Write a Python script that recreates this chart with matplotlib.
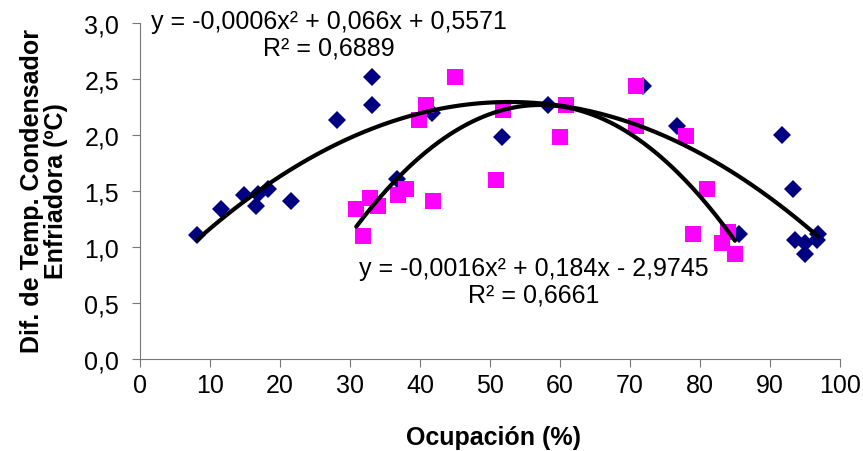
import numpy as np
import matplotlib
matplotlib.use('Agg')
import matplotlib.pyplot as plt

plt.rcParams['font.family'] = ['Liberation Sans', 'DejaVu Sans']

# serie 1 (rombos azules)
x1 = [8.1, 11.6, 14.9, 16.6, 16.8, 18.3, 21.6, 28.2, 33.2, 33.2, 36.7,
      41.7, 51.7, 58.3, 71.9, 76.7, 85.6, 91.7, 93.3, 93.6, 95.0, 95.0,
      96.7, 96.9]
y1 = [1.11, 1.34, 1.46, 1.37, 1.47, 1.52, 1.41, 2.13, 2.52, 2.27, 1.61,
      2.20, 1.98, 2.27, 2.44, 2.08, 1.12, 2.00, 1.52, 1.06, 1.04, 0.94,
      1.06, 1.12]

# serie 2 (cuadrados rosa)
x2 = [30.9, 31.9, 32.9, 34.0, 36.9, 38.0, 39.9, 40.9, 41.9, 45.0, 50.9,
      51.8, 60.0, 60.9, 70.9, 70.9, 78.0, 79.0, 81.0, 83.1, 84.0, 85.0]
y2 = [1.34, 1.10, 1.44, 1.37, 1.46, 1.52, 2.13, 2.27, 1.41, 2.52, 1.60,
      2.22, 1.98, 2.27, 2.44, 2.08, 1.99, 1.12, 1.52, 1.04, 1.13, 0.94]

eq1 = 'y = -0,0006x² + 0,066x + 0,5571\nR² = 0,6889'
eq2 = 'y = -0,0016x² + 0,184x - 2,9745\nR² = 0,6661'

fig = plt.figure(figsize=(8.63, 4.52), dpi=100)
ax = fig.add_axes([0.1622, 0.2035, 0.8111, 0.7434])

ax.plot(x1, y1, 'D', color='#000080', ms=9, mew=0, zorder=2)
ax.plot(x2, y2, 's', color='#FF00FF', ms=11, mew=0, zorder=3)

# lineas de tendencia polinomicas (orden 2)
for xs, ys in [(x1, y1), (x2, y2)]:
    c = np.polyfit(xs, ys, 2)
    xx = np.linspace(min(xs), max(xs), 200)
    ax.plot(xx, np.polyval(c, xx), color='black', lw=3, zorder=4,
            solid_capstyle='round')

ax.text(27, 2.90, eq1, ha='center', va='center', fontsize=18,
        linespacing=1.1, clip_on=False)
ax.text(56.2, 0.695, eq2, ha='center', va='center', fontsize=18,
        linespacing=1.1)

ax.set_xlim(0, 100)
ax.set_ylim(0, 3)
ax.set_xticks(np.arange(0, 101, 10))
ax.set_yticks(np.arange(0, 3.01, 0.5))
ax.set_yticklabels([('%.1f' % v).replace('.', ',') for v in np.arange(0, 3.01, 0.5)])

for s in ['top', 'right']:
    ax.spines[s].set_visible(False)
for s in ['left', 'bottom']:
    ax.spines[s].set_color('#777777')
ax.tick_params(direction='out', length=6, color='#777777', labelsize=18)
ax.tick_params(axis='x', pad=4)
ax.tick_params(axis='y', pad=9)

fig.text(493.5 / 863, 1 - 438 / 452, 'Ocupación (%)', fontsize=18,
         fontweight='bold', ha='center', va='center')
fig.text(44.5 / 863, 1 - 191 / 452, 'Dif. de Temp. Condensador\nEnfriadora (ºC)',
         fontsize=18, fontweight='bold', ha='center', va='center',
         rotation=90, linespacing=1.0, multialignment='center')

fig.savefig('out.png', dpi=100)
